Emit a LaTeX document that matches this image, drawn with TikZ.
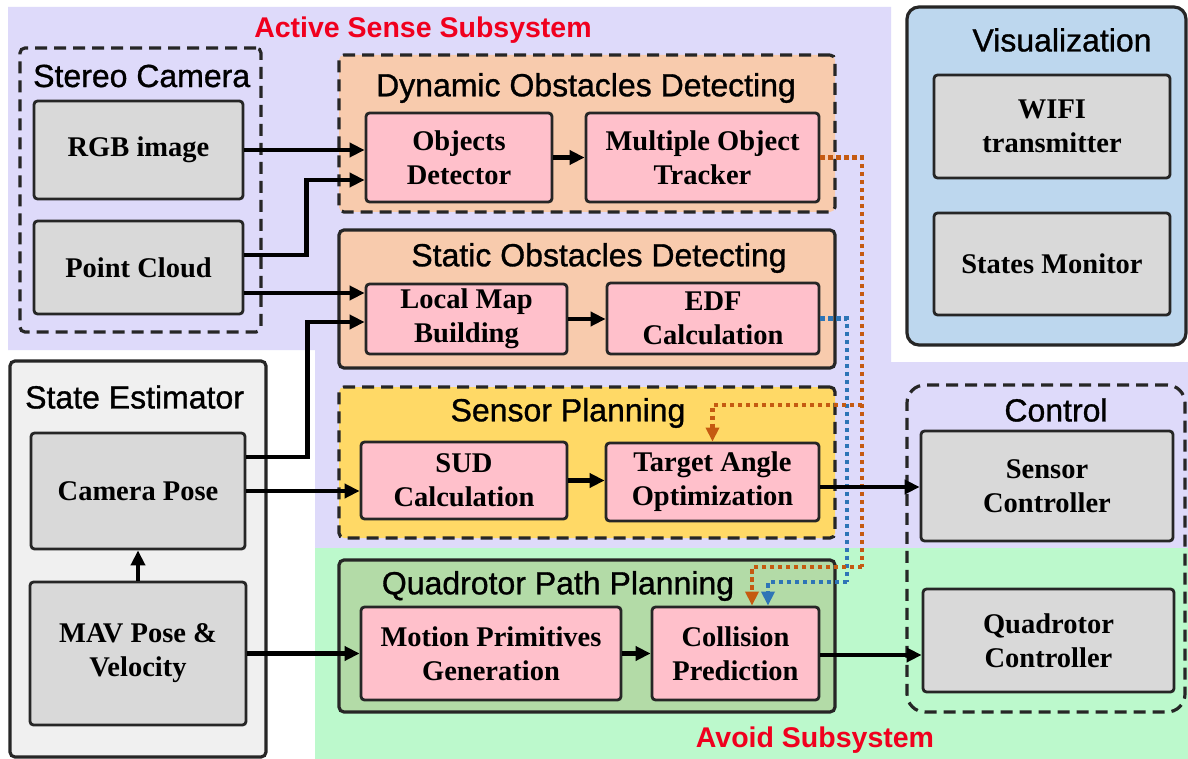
\documentclass[tikz,border=0pt]{standalone}
\usepackage{fontspec}
\setmainfont{Liberation Serif}
\newfontfamily\titlefont[FakeBold=1]{Liberation Sans}
\newfontfamily\redfont{Liberation Sans}
\usetikzlibrary{arrows.meta,calc}
\definecolor{lav}{HTML}{DEDAFA}
\definecolor{mint}{HTML}{BCF9CC}
\definecolor{peach}{HTML}{F8CBAD}
\definecolor{pinkbox}{HTML}{FFC0CB}
\definecolor{graybox}{HTML}{D9D9D9}
\definecolor{yel}{HTML}{FFD966}
\definecolor{olive}{HTML}{B3DBA7}
\definecolor{skyb}{HTML}{BDD7EE}
\definecolor{lightg}{HTML}{F0F0F0}
\definecolor{redt}{HTML}{F0001E}
\definecolor{odot}{HTML}{C55A11}
\definecolor{bdot}{HTML}{2E75B6}
\tikzset{
  box/.style={draw=black!85, line width=2.8pt, rounded corners=3.5pt, align=center, inner sep=0pt,
    font=\bfseries\fontsize{28.5}{34}\selectfont},
  gbox/.style={box, fill=graybox},
  pbox/.style={box, fill=pinkbox},
  cont/.style={line width=3.2pt, rounded corners=5pt, inner sep=0pt},
  dcont/.style={cont, draw=black!85, dash pattern=on 12pt off 7pt},
  scont/.style={cont, draw=black!85},
  ttl/.style={inner sep=0pt, font=\titlefont\fontsize{32}{38}\selectfont},
  redttl/.style={inner sep=0pt, text=redt, font=\redfont\bfseries\fontsize{28.5}{34}\selectfont},
  arr/.style={line width=4.2pt, -{Triangle[length=15pt,width=14pt]}},
  dotline/.style={line width=4.8pt, dash pattern=on 4.5pt off 3.5pt, -{Triangle[length=14pt,width=13pt]}},
}
\begin{document}
\begin{tikzpicture}[x=1pt,y=-1pt]
\useasboundingbox (0,0) rectangle (1188,759);
\fill[white] (0,0) rectangle (1188,759);
% backgrounds
\fill[lav] (8,7) -- (891,7) -- (891,362) -- (1188,362) -- (1188,548) -- (315,548) -- (315,350) -- (8,350) -- cycle;
\fill[mint] (315,548) rectangle (1188,759);
\node[redttl] (ttlactive) at (423,30) {Active Sense Subsystem};
\node[redttl] (ttlavoid) at (815,740) {Avoid Subsystem};

% containers
\node[dcont, minimum width=241, minimum height=284] (stereo) at (140.5,190) {};
\node[dcont, fill=peach, minimum width=496, minimum height=157] (dyn) at (587,133.5) {};
\node[scont, fill=peach, minimum width=496, minimum height=138] (stat) at (587,299) {};
\node[dcont, fill=yel, minimum width=496, minimum height=151] (sp) at (587,462.5) {};
\node[scont, fill=olive, minimum width=496, minimum height=152] (qpp) at (587,636) {};
\node[scont, fill=lightg, minimum width=256, minimum height=396] (se) at (138,559) {};
\node[scont, fill=skyb, rounded corners=12pt, minimum width=279, minimum height=338] (vis) at (1046.5,176) {};
\node[dcont, rounded corners=18pt, minimum width=278, minimum height=327] (ctrl) at (1046,548.5) {};

% titles
\node[ttl, anchor=west] (tstereo) at (33,76) {Stereo Camera};
\node[ttl, anchor=west] (tse) at (25,397) {State Estimator};
\node[ttl] (tdyn) at (586,88) {Dynamic Obstacles Detecting};
\node[ttl] (tstat) at (599,258) {Static Obstacles Detecting};
\node[ttl] (tsp) at (568,413) {Sensor Planning};
\node[ttl] (tqpp) at (558,586) {Quadrotor Path Planning};
\node[ttl] (tvis) at (1062,40) {Visualization};
\node[ttl] (tctrl) at (1056,410) {Control};

% boxes
\node[gbox, minimum width=209, minimum height=98] (rgb) at (138.5,150) {RGB image};
\node[gbox, minimum width=209, minimum height=93] (pc) at (138.5,267.5) {Point Cloud};
\node[pbox, minimum width=186, minimum height=89] (od) at (459,157.5) {Objects\\Detector};
\node[pbox, minimum width=233, minimum height=89] (mot) at (702.5,157.5) {Multiple Object\\Tracker};
\node[pbox, minimum width=201, minimum height=70] (lmb) at (466.5,319) {Local Map\\Building};
\node[pbox, minimum width=212, minimum height=71] (edf) at (713,318.5) {EDF\\Calculation};
\node[pbox, minimum width=206, minimum height=77] (sud) at (464,480.5) {SUD\\Calculation};
\node[pbox, minimum width=213, minimum height=78] (tao) at (712.5,482) {Target Angle\\Optimization};
\node[pbox, minimum width=260, minimum height=93] (mpg) at (491,653.5) {Motion Primitives\\Generation};
\node[pbox, minimum width=167, minimum height=93] (cp) at (735.5,653.5) {Collision\\Prediction};
\node[gbox, minimum width=214, minimum height=116] (cam) at (138,491) {Camera Pose};
\node[gbox, minimum width=216, minimum height=143] (mav) at (138,653.5) {MAV Pose \&\\Velocity};
\node[gbox, minimum width=236, minimum height=103] (wifi) at (1052,126.5) {WIFI\\transmitter};
\node[gbox, minimum width=236, minimum height=102] (sm) at (1052,264) {States Monitor};
\node[gbox, minimum width=252, minimum height=110] (sc) at (1047,486) {Sensor\\Controller};
\node[gbox, minimum width=251, minimum height=103] (qc) at (1048.5,640.5) {Quadrotor\\Controller};

% dotted feedback
\coordinate (o1) at (862,157.5);
\coordinate (o2) at (862,405);
\coordinate (o3) at (862,567);
\coordinate (b2) at (847,582);
\draw[dotline, bdot, -] (edf.east) -| (b2);
\draw[dotline, bdot] (b2) -| ([xshift=32.5pt]cp.north);
\draw[dotline, odot, -] (mot.east) -- (o1) -- (o3);
\draw[dotline, odot] (o2) -| (tao.north);
\draw[dotline, odot] (o3) -| ([xshift=16.5pt]cp.north);

% arrows
\draw[arr] (rgb.east) -- (rgb.east -| od.west);
\draw[arr] ([yshift=12.5pt]pc.east) -- ++(62,0) |- ([yshift=-22.5pt]od.west);
\draw[arr] ([yshift=-25.5pt]pc.east) -- ([yshift=-25.5pt]pc.east -| lmb.west);
\draw[arr] ([yshift=34pt]cam.east) -- ++(61,0) |- ([yshift=-3pt]lmb.west);
\draw[arr] (cam.east) -- (cam.east -| sud.west);
\draw[arr] (mav.north) -- (cam.south);
\draw[arr] (mav.east) -- (mav.east -| mpg.west);
\draw[arr] (od.east) -- (od.east -| mot.west);
\draw[arr] (lmb.east) -- (lmb.east -| edf.west);
\draw[arr] (sud.east) -- (sud.east -| tao.west);
\draw[arr] (mpg.east) -- (mpg.east -| cp.west);
\draw[arr] ([yshift=-5pt]tao.east) -- ([yshift=-5pt]tao.east -| sc.west);
\draw[arr] ([yshift=-1.5pt]cp.east) -- ([yshift=-1.5pt]cp.east -| qc.west);
\end{tikzpicture}
\end{document}
